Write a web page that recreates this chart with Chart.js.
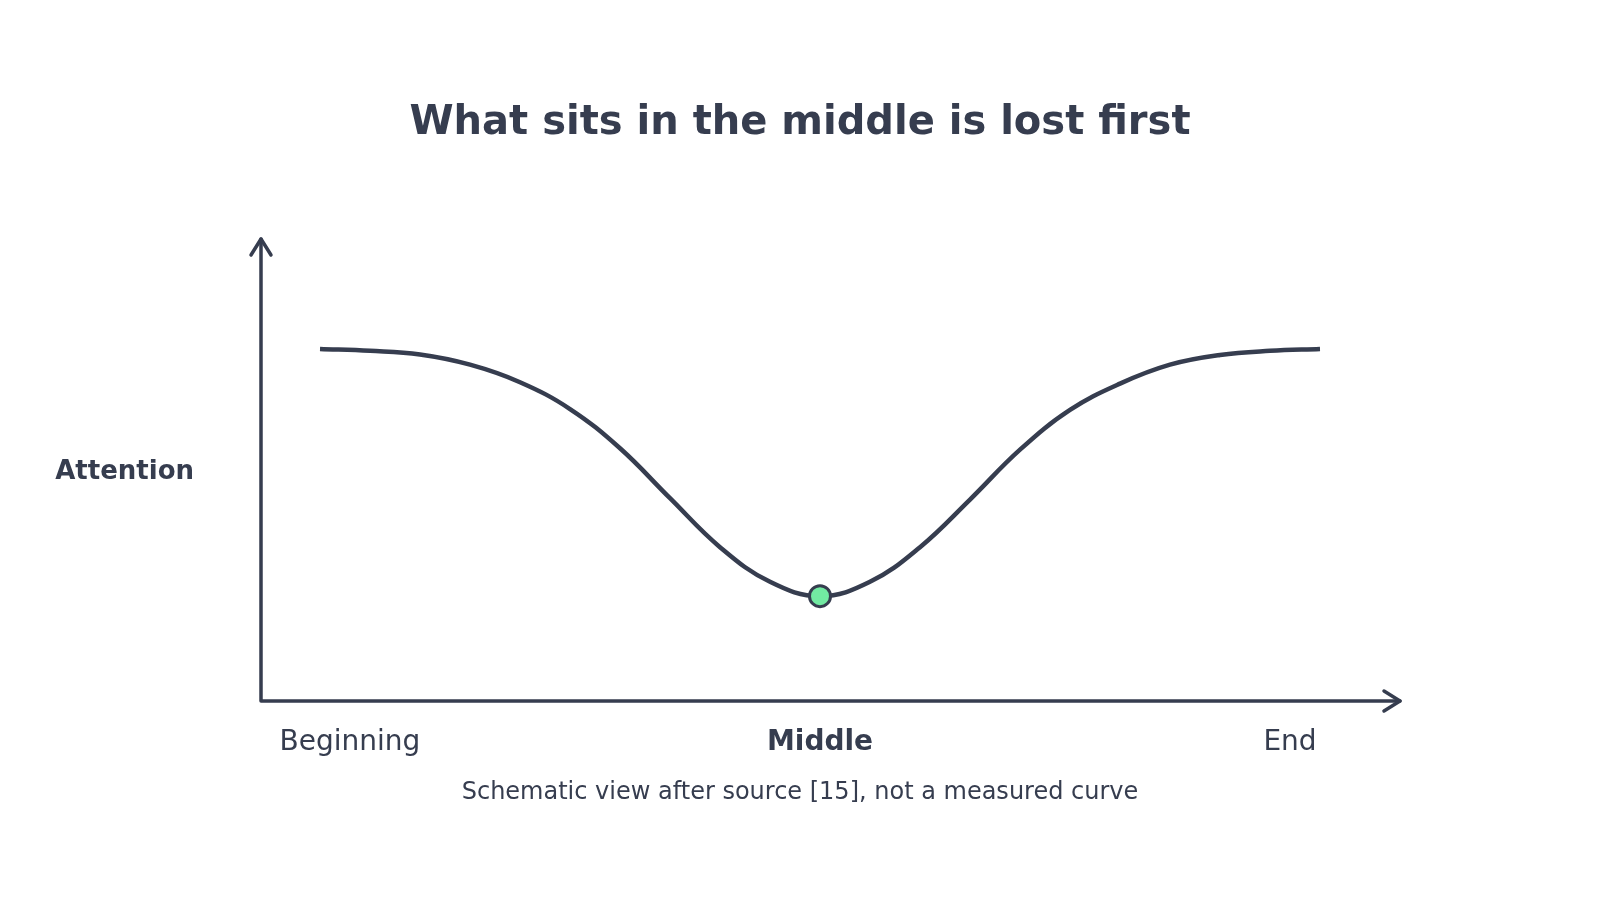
<!DOCTYPE html>
<html>
<head>
<meta charset="utf-8">
<title>What sits in the middle is lost first</title>
<script src="https://cdn.jsdelivr.net/npm/chart.js@4/dist/chart.umd.min.js"></script>
<style>
  html, body { margin: 0; padding: 0; background: #ffffff; }
  canvas { display: block; }
</style>
</head>
<body>
<canvas id="attentionChart" width="1600" height="900"></canvas>
<script>
// position along the context (0 = start, 100 = end) and schematic attention level
const positions = [0, 5, 10, 15, 20, 25, 30, 35, 40, 45, 50, 55, 60, 65, 70, 75, 80, 85, 90, 95, 100];
const attention = [76.2, 75.8, 75.0, 72.8, 69.0, 63.2, 54.7, 43.9, 33.3, 25.8, 22.7, 25.8, 33.3, 43.6, 54.4, 63.0, 68.7, 72.8, 74.9, 75.8, 76.2];
const tickValues = [3, 50, 97];
const tickLabels = ['Beginning', 'Middle', 'End'];
const highlightLabel = 'Middle';
const markerPosition = 50;

const titleText = 'What sits in the middle is lost first';
const yLabel = 'Attention';
const caption = 'Schematic view after source [15], not a measured curve';

const ink = '#363d4f';
const markerFill = '#72eaa2';
const font = "'DejaVu Sans', 'Liberation Sans', sans-serif";

const markerIndex = positions.indexOf(markerPosition);

// axes with arrow heads + all the text
const decorations = {
    id: 'decorations',
    afterDraw(chart) {
        const ctx = chart.ctx;
        const a = chart.chartArea;
        const x = chart.scales.x;
        ctx.save();
        ctx.strokeStyle = ink;
        ctx.fillStyle = ink;
        ctx.lineWidth = 3.5;
        ctx.lineCap = 'round';
        ctx.lineJoin = 'round';

        ctx.beginPath();
        ctx.moveTo(a.left, a.top);
        ctx.lineTo(a.left, a.bottom);
        ctx.lineTo(a.right, a.bottom);
        ctx.stroke();

        // arrow heads
        ctx.beginPath();
        ctx.moveTo(a.left - 10, a.top + 16);
        ctx.lineTo(a.left, a.top);
        ctx.lineTo(a.left + 10, a.top + 16);
        ctx.moveTo(a.right - 16, a.bottom - 10);
        ctx.lineTo(a.right, a.bottom);
        ctx.lineTo(a.right - 16, a.bottom + 10);
        ctx.stroke();

        ctx.textAlign = 'center';
        ctx.textBaseline = 'alphabetic';
        ctx.font = 'bold 40px ' + font;
        ctx.fillText(titleText, 800, 134);

        tickValues.forEach((v, i) => {
            const bold = tickLabels[i] === highlightLabel;
            ctx.font = (bold ? 'bold ' : '') + '28px ' + font;
            ctx.fillText(tickLabels[i], x.getPixelForValue(v), 750);
        });

        ctx.font = '24px ' + font;
        ctx.fillText(caption, 800, 799);

        ctx.textAlign = 'right';
        ctx.font = 'bold 26px ' + font;
        ctx.fillText(yLabel, 194, 479);
        ctx.restore();
    }
};

new Chart(document.getElementById('attentionChart'), {
    type: 'line',
    data: {
        datasets: [{
            data: positions.map((p, i) => ({ x: p, y: attention[i] })),
            borderColor: ink,
            borderWidth: 4.5,
            tension: 0.4,
            fill: false,
            pointRadius: (c) => c.dataIndex === markerIndex ? 10.5 : 0,
            pointHoverRadius: (c) => c.dataIndex === markerIndex ? 10.5 : 0,
            pointBackgroundColor: markerFill,
            pointBorderColor: ink,
            pointBorderWidth: 3
        }]
    },
    options: {
        responsive: false,
        animation: false,
        devicePixelRatio: 1,
        layout: { padding: { left: 261, top: 239, right: 200, bottom: 199 } },
        scales: {
            x: { type: 'linear', min: -5.9, max: 108, display: false },
            y: { min: 0, max: 100, display: false }
        },
        plugins: {
            legend: { display: false },
            tooltip: { enabled: false }
        }
    },
    plugins: [decorations]
});
</script>
</body>
</html>
